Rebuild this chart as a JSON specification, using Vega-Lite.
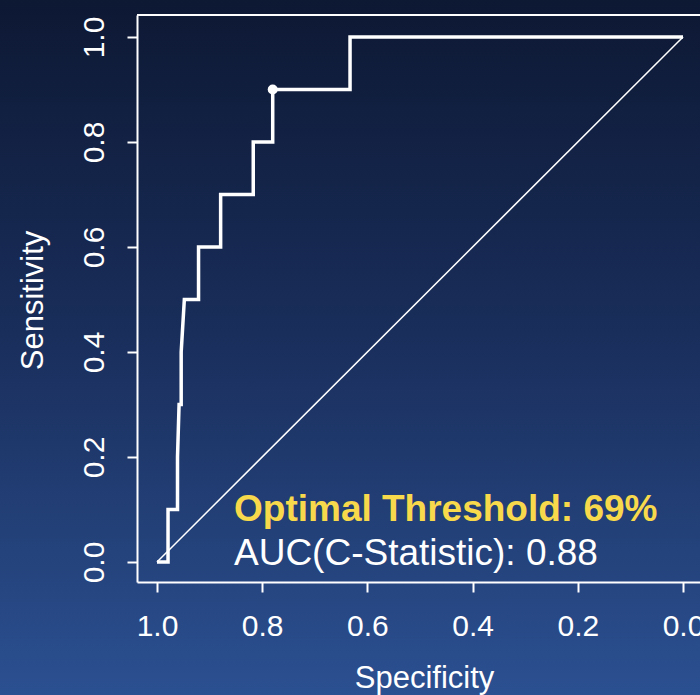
{
  "$schema": "https://vega.github.io/schema/vega-lite/v6.json",
  "width": 700,
  "height": 695,
  "autosize": {"type": "none"},
  "padding": 0,
  "background": "#1c3362",
  "view": {
    "stroke": null,
    "fill": {
      "gradient": "linear",
      "x1": 0, "y1": 0, "x2": 0, "y2": 1,
      "stops": [
        {"offset": 0, "color": "#0d1833"},
        {"offset": 0.5, "color": "#1a2f5d"},
        {"offset": 1, "color": "#2b5091"}
      ]
    }
  },
  "config": {
    "font": "Liberation Sans"
  },
  "datasets": {
    "roc": [
      {"i": 0, "specificity": 1.0, "sensitivity": 0.0},
      {"i": 1, "specificity": 0.979, "sensitivity": 0.0},
      {"i": 2, "specificity": 0.979, "sensitivity": 0.1},
      {"i": 3, "specificity": 0.961, "sensitivity": 0.1},
      {"i": 4, "specificity": 0.961, "sensitivity": 0.2},
      {"i": 5, "specificity": 0.958, "sensitivity": 0.3},
      {"i": 6, "specificity": 0.954, "sensitivity": 0.3},
      {"i": 7, "specificity": 0.954, "sensitivity": 0.4},
      {"i": 8, "specificity": 0.948, "sensitivity": 0.5},
      {"i": 9, "specificity": 0.921, "sensitivity": 0.5},
      {"i": 10, "specificity": 0.921, "sensitivity": 0.6},
      {"i": 11, "specificity": 0.879, "sensitivity": 0.6},
      {"i": 12, "specificity": 0.879, "sensitivity": 0.7},
      {"i": 13, "specificity": 0.817, "sensitivity": 0.7},
      {"i": 14, "specificity": 0.817, "sensitivity": 0.8},
      {"i": 15, "specificity": 0.780, "sensitivity": 0.8},
      {"i": 16, "specificity": 0.780, "sensitivity": 0.9},
      {"i": 17, "specificity": 0.633, "sensitivity": 0.9},
      {"i": 18, "specificity": 0.633, "sensitivity": 1.0},
      {"i": 19, "specificity": 0.0, "sensitivity": 1.0}
    ],
    "optimal": [
      {"specificity": 0.78, "sensitivity": 0.9}
    ]
  },
  "layer": [
    {
      "data": {"values": [{}]},
      "mark": {"type": "rule", "color": "white", "strokeWidth": 1.5},
      "encoding": {
        "x": {"datum": 1, "type": "quantitative", "scale": {"domain": [1.038, -0.0323], "range": [137, 700], "nice": false, "zero": false}},
        "y": {"datum": 0, "type": "quantitative", "scale": {"domain": [-0.0381, 1.0419], "range": [582, 15], "nice": false, "zero": false}},
        "x2": {"datum": 0},
        "y2": {"datum": 1}
      }
    },
    {
      "data": {"values": [{}]},
      "mark": {"type": "rule", "color": "white", "strokeWidth": 2},
      "encoding": {
        "x": {"datum": 1.038, "type": "quantitative"},
        "x2": {"datum": -0.0323},
        "y": {"datum": 1.0419, "type": "quantitative"}
      }
    },
    {
      "data": {"name": "roc"},
      "mark": {"type": "line", "color": "white", "strokeWidth": 3.5, "strokeJoin": "miter"},
      "encoding": {
        "x": {
          "field": "specificity",
          "type": "quantitative",
          "axis": {
            "title": "Specificity",
            "orient": "bottom",
            "offset": -113,
            "values": [0, 0.2, 0.4, 0.6, 0.8, 1],
            "format": ".1f",
            "grid": false,
            "domainColor": "white",
            "domainWidth": 2,
            "tickColor": "white",
            "tickWidth": 2,
            "tickSize": 10,
            "labelColor": "white",
            "labelFontSize": 30,
            "labelPadding": 43,
            "labelBaseline": "alphabetic",
            "labelAlign": "center",
            "labelFlush": false,
            "labelOverlap": false,
            "labelBound": false,
            "titleColor": "white",
            "titleFontSize": 31,
            "titleFontWeight": "normal",
            "titleX": 424,
            "titleY": 105,
            "titleBaseline": "alphabetic",
            "titleAlign": "center"
          }
        },
        "y": {
          "field": "sensitivity",
          "type": "quantitative",
          "axis": {
            "title": "Sensitivity",
            "orient": "left",
            "offset": -137,
            "values": [0, 0.2, 0.4, 0.6, 0.8, 1],
            "format": ".1f",
            "grid": false,
            "domainColor": "white",
            "domainWidth": 2,
            "tickColor": "white",
            "tickWidth": 2,
            "tickSize": 10,
            "labelColor": "white",
            "labelFontSize": 30,
            "labelAngle": -90,
            "labelAlign": "center",
            "labelBaseline": "alphabetic",
            "labelPadding": 24,
            "labelFlush": false,
            "labelOverlap": false,
            "labelBound": false,
            "titleColor": "white",
            "titleFontSize": 31,
            "titleFontWeight": "normal",
            "titleAngle": -90,
            "titleX": -95,
            "titleY": 300,
            "titleBaseline": "alphabetic",
            "titleAlign": "center"
          }
        },
        "order": {"field": "i", "type": "quantitative"}
      }
    },
    {
      "data": {"name": "optimal"},
      "mark": {"type": "circle", "color": "white", "opacity": 1, "size": 100},
      "encoding": {
        "x": {"field": "specificity", "type": "quantitative"},
        "y": {"field": "sensitivity", "type": "quantitative"}
      }
    },
    {
      "data": {"values": [{}]},
      "mark": {"type": "text", "align": "left", "baseline": "alphabetic", "fontSize": 37, "fontWeight": "bold", "color": "#f8d94c"},
      "encoding": {
        "x": {"datum": 0.8536, "type": "quantitative"},
        "y": {"datum": 0.0781, "type": "quantitative"},
        "text": {"value": "Optimal Threshold: 69%"}
      }
    },
    {
      "data": {"values": [{}]},
      "mark": {"type": "text", "align": "left", "baseline": "alphabetic", "fontSize": 37, "fontWeight": "normal", "color": "white"},
      "encoding": {
        "x": {"datum": 0.8536, "type": "quantitative"},
        "y": {"datum": -0.0057, "type": "quantitative"},
        "text": {"value": "AUC(C-Statistic): 0.88"}
      }
    }
  ]
}
